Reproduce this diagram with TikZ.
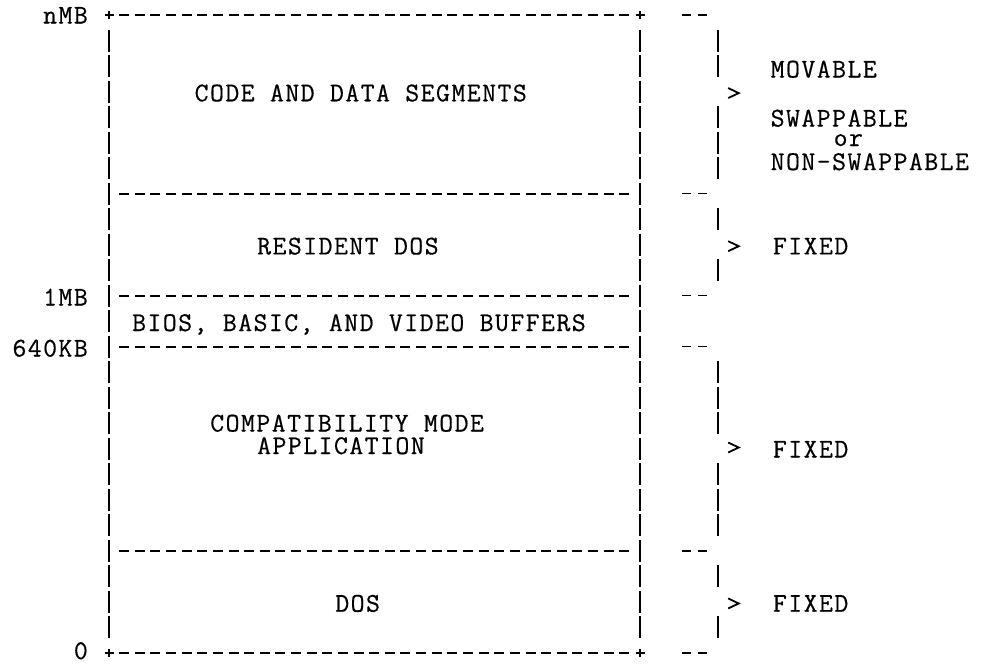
\documentclass[tikz,border=0pt]{standalone}
\usepackage{fontspec}
\newfontfamily\typewriter{Latin Modern Mono}[LetterSpace=5.4,FakeBold=0.5]
\begin{document}
\begin{tikzpicture}[x=1pt,y=-1pt,
  hline/.style={line width=1.8pt, dash pattern=on 10pt off 5.63pt},
  vbar/.style={line width=1.8pt, dash pattern=on 22pt off 3.52pt},
  brk/.style={line width=1.4pt, dash pattern=on 22pt off 3.52pt},
  tick/.style={line width=1.4pt},
  corner/.style={line width=1.6pt},
  chev/.style={line width=1.8pt, line join=miter},
  txt/.style={font=\typewriter\fontsize{27}{22}\selectfont, inner sep=0pt, anchor=base west},
  lab/.style={font=\typewriter\fontsize{27}{22}\selectfont, inner sep=0pt, anchor=base east},
]
\useasboundingbox (0,0) rectangle (983,664);
\fill[white] (0,0) rectangle (983,664);

% corner coordinates of the memory box
\coordinate (tl) at (109,15);
\coordinate (tr) at (640,15);
\coordinate (bl) at (109,653);
\coordinate (br) at (640,653);

% box verticals
\draw[vbar] (109,29.5) -- (109,638.5);
\draw[vbar] (640,29.5) -- (640,638.5);

% horizontal boundaries
\foreach \y in {15,193.64,295.72,346.76,550.92,653}{
  \draw[hline] (119.13,\y) -- (629.4,\y);
  \draw[tick] (682.3,\y) -- (691.3,\y);
  \draw[tick] (697.9,\y) -- (706.9,\y);
}

% corner plus signs
\foreach \p in {tl,tr,bl,br}{
  \draw[corner] ([xshift=-4.5pt]\p) -- ([xshift=4.5pt]\p);
  \draw[corner] ([yshift=-4pt]\p) -- ([yshift=4pt]\p);
}

% side labels
\node[lab] (nmb) at (88,23.5) {nMB};
\node[lab] (onemb) at (88,305.5) {1MB};
\node[lab] (kb) at (88,356.5) {640KB};
\node[lab] (zero) at (88,659) {0};

% region texts
\node[txt] (code) at (194.47,101.3) {CODE AND DATA SEGMENTS};
\node[txt] (res) at (256.99,254.4) {RESIDENT DOS};
\node[txt] (bios) at (131.95,331) {BIOS, BASIC, AND VIDEO BUFFERS};
\node[txt] (comp) at (210.10,431.5) {COMPATIBILITY MODE};
\node[txt] (appl) at (256.99,454) {APPLICATION};
\node[txt] (dos) at (335.14,611.7) {DOS};

% right brackets
\draw[brk] (718.07,29.5) -- (718.07,77.04);
\draw[brk] (718.07,106.08) -- (718.07,179.12);
\draw[brk] (718.07,208.16) -- (718.07,230.16);
\draw[brk] (718.07,259.2) -- (718.07,281.2);
\draw[brk] (718.07,361.28) -- (718.07,434.32);
\draw[brk] (718.07,463.36) -- (718.07,536.4);
\draw[brk] (718.07,565.44) -- (718.07,587.44);
\draw[brk] (718.07,616.48) -- (718.07,638.48);

% bracket tips
\foreach \c in {93.06,246.18,447.5,603.46}{
  \draw[chev] (728.2,\c-5) -- (738.7,\c) -- (728.2,\c+5);
}

% right-hand texts
\node[txt] (mov) at (770.5,77.5) {MOVABLE};
\node[txt] (swap) at (770.5,126.5) {SWAPPABLE};
\node[txt] (or) at (833.5,146) {or};
\node[txt] (nonswap) at (770.5,170) {NON-SWAPPABLE};
\node[txt] (fix1) at (772.78,254.4) {FIXED};
\node[txt] (fix2) at (772.78,457.5) {FIXED};
\node[txt] (fix3) at (772.78,611.7) {FIXED};
\end{tikzpicture}
\end{document}
